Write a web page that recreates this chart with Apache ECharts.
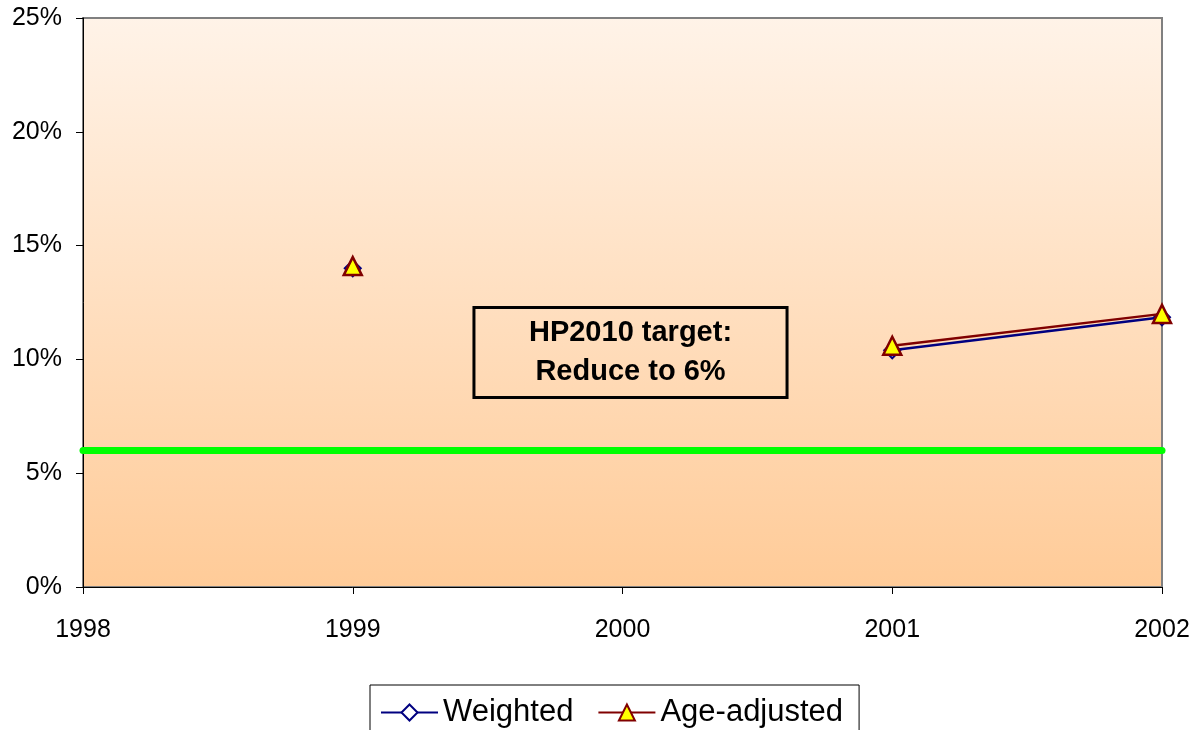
<!DOCTYPE html>
<html>
<head>
<meta charset="utf-8">
<script src="https://cdn.jsdelivr.net/npm/echarts@6/dist/echarts.min.js"></script>
<style>
  html, body { margin: 0; padding: 0; background: #fff; }
  #main { width: 1204px; height: 730px; }
</style>
</head>
<body>
<div id="main"></div>
<script>
// data
var years = ['1998', '1999', '2000', '2001', '2002'];
var weighted = [null, 14.0, null, 10.4, 11.85];
var ageAdjusted = [null, 14.1, null, 10.6, 12.0];
var yTicks = [0, 5, 10, 15, 20, 25];
var target = 6;
var noteText = 'HP2010 target:\nReduce to 6%';
var notePos = ['2000', 10.3];

var chartDom = document.getElementById('main');
var myChart = echarts.init(chartDom);
var option;

option = {
  animation: false,
  textStyle: { fontFamily: 'Liberation Sans, Arial, sans-serif' },
  grid: {
    left: 83,
    right: 42,
    top: 18,
    bottom: 143,
    show: true,
    borderColor: '#808080',
    borderWidth: 2,
    backgroundColor: new echarts.graphic.LinearGradient(0, 0, 0, 1, [
      { offset: 0, color: '#FFF3E8' },
      { offset: 1, color: '#FFCB98' }
    ])
  },
  legend: {
    left: 370,
    top: 685,
    padding: [12, 16, 20, 10],
    borderColor: '#000',
    borderWidth: 1,
    itemWidth: 57,
    itemHeight: 20,
    itemGap: 24,
    textStyle: { fontSize: 31, color: '#000' },
    data: ['Weighted', 'Age-adjusted']
  },
  xAxis: {
    type: 'category',
    data: years,
    boundaryGap: false,
    axisLine: { lineStyle: { color: '#000', width: 1 } },
    axisTick: { show: true, length: 7, lineStyle: { color: '#000' } },
    axisLabel: { fontSize: 25, color: '#000', margin: 31 },
    splitLine: { show: false }
  },
  yAxis: {
    type: 'value',
    min: yTicks[0],
    max: yTicks[yTicks.length - 1],
    interval: 5,
    axisLine: { show: true, lineStyle: { color: '#000', width: 1 } },
    axisTick: { show: true, length: 7, lineStyle: { color: '#000' } },
    axisLabel: { fontSize: 25, color: '#000', margin: 21, formatter: '{value}%' },
    splitLine: { show: false }
  },
  series: [
    {
      name: 'Weighted',
      type: 'line',
      data: weighted,
      connectNulls: false,
      symbol: 'diamond',
      symbolSize: 16,
      lineStyle: { color: '#000080', width: 2.5 },
      itemStyle: { color: '#ffffff', borderColor: '#000080', borderWidth: 2 },
      markLine: {
        silent: true,
        symbol: 'none',
        label: { show: false },
        lineStyle: { color: '#00FF00', width: 7, type: 'solid', cap: 'round' },
        data: [{ yAxis: target }]
      },
      z: 2
    },
    {
      name: 'Age-adjusted',
      type: 'line',
      data: ageAdjusted,
      connectNulls: false,
      symbol: 'triangle',
      symbolSize: 18,
      lineStyle: { color: '#800000', width: 2.5 },
      itemStyle: { color: '#FFFF00', borderColor: '#800000', borderWidth: 2.5 },
      markPoint: {
        silent: true,
        symbol: 'rect',
        symbolSize: 0,
        data: [{ coord: notePos, value: noteText }],
        label: {
          show: true,
          position: 'inside',
          offset: [8, 0],
          formatter: noteText,
          fontSize: 29,
          fontWeight: 'bold',
          color: '#000',
          lineHeight: 39,
          align: 'center',
          backgroundColor: 'rgba(0,0,0,0)',
          borderColor: '#000',
          borderWidth: 1.5,
          padding: [6, 55, 6, 55]
        }
      },
      z: 3
    }
  ]
};

option && myChart.setOption(option);
</script>
</body>
</html>
